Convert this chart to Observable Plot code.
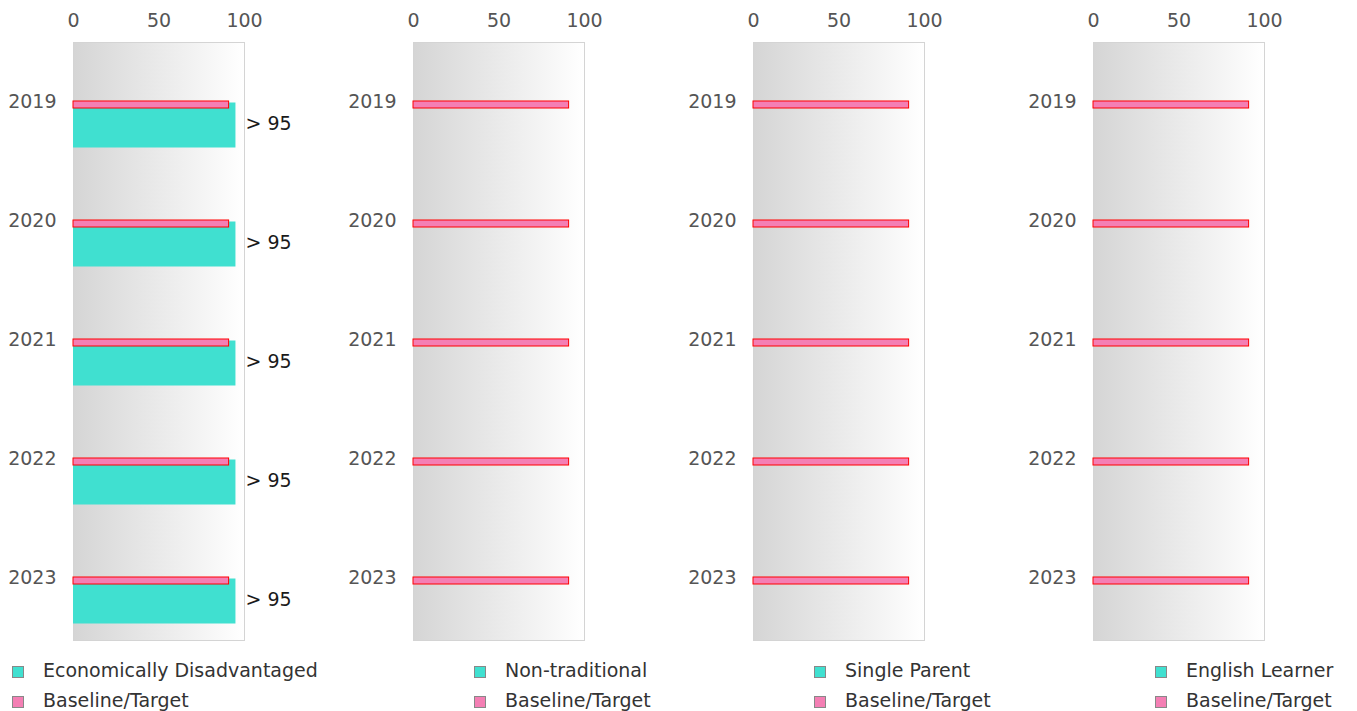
<!DOCTYPE html>
<html>
<head>
<meta charset="utf-8">
<script src="https://cdn.jsdelivr.net/npm/d3@7"></script>
<script src="https://cdn.jsdelivr.net/npm/@observablehq/plot@0.6"></script>
<style>
  html, body { margin: 0; padding: 0; background: #fff; overflow: hidden; }
  body { font-family: "DejaVu Sans", sans-serif; }
  #root { display: flex; width: 1360px; }
  .panel { width: 340px; flex: 0 0 340px; }
  .legend { margin-top: 10px; }
  .item { height: 30px; line-height: 30px; font-size: 19px; color: #333; white-space: nowrap; }
  .sw { display: inline-block; width: 10px; height: 10px; border: 1px solid #888; margin-right: 19px; vertical-align: -1px; }
</style>
</head>
<body>
<div id="root"></div>
<script>
const years = ["2019", "2020", "2021", "2022", "2023"];
const groups = ["Economically Disadvantaged", "Non-traditional", "Single Parent", "English Learner"];
const groupValues = [
  [95, 95, 95, 95, 95],
  [null, null, null, null, null],
  [null, null, null, null, null],
  [null, null, null, null, null]
];
const groupLabels = [
  ["> 95", "> 95", "> 95", "> 95", "> 95"],
  [null, null, null, null, null],
  [null, null, null, null, null],
  [null, null, null, null, null]
];
const targetValues = [
  [91, 91, 91, 91, 91],
  [91, 91, 91, 91, 91],
  [91, 91, 91, 91, 91],
  [91, 91, 91, 91, 91]
];
const seriesNames = ["Baseline/Target"];
const xTicks = [0, 50, 100];
const colorGroup = "#40e0d0";
const colorTarget = "#f47fb4";
const legendOffsets = [12, 134, 134, 135];

const root = document.getElementById("root");

groups.forEach((g, gi) => {
  const groupData = years.map((y, i) => ({year: y, value: groupValues[gi][i], label: groupLabels[gi][i]})).filter(d => d.value != null);
  const targetData = years.map((y, i) => ({year: y, value: targetValues[gi][i]})).filter(d => d.value != null);
  const gradId = "bg" + gi;

  const defs = () => {
    const ns = "http://www.w3.org/2000/svg";
    const d = document.createElementNS(ns, "defs");
    const lg = document.createElementNS(ns, "linearGradient");
    lg.setAttribute("id", gradId);
    lg.setAttribute("x1", "0"); lg.setAttribute("x2", "1");
    lg.setAttribute("y1", "0"); lg.setAttribute("y2", "0");
    [["0", "#d5d5d5"], ["1", "#ffffff"]].forEach(([o, c]) => {
      const s = document.createElementNS(ns, "stop");
      s.setAttribute("offset", o); s.setAttribute("stop-color", c);
      lg.appendChild(s);
    });
    d.appendChild(lg);
    return d;
  };

  const chart = Plot.plot({
    width: 340,
    height: 645,
    marginLeft: 73,
    marginRight: 96,
    marginTop: 42,
    marginBottom: 5,
    style: {fontFamily: "DejaVu Sans, sans-serif", fontSize: "19px", background: "transparent", overflow: "visible"},
    x: {domain: [0, 100], axis: null},
    y: {type: "band", domain: years, padding: 0, axis: null},
    marks: [
      defs,
      Plot.frame({fill: `url(#${gradId})`, stroke: "#d4d4d4"}),
      Plot.axisX({anchor: "top", ticks: xTicks, tickSize: 0, tickPadding: 16, fill: "#555", fontSize: 19, label: null}),
      Plot.axisY({anchor: "left", tickSize: 0, tickPadding: 17, dy: -2, fill: "#555", fontSize: 19, label: null}),
      Plot.barX(groupData, {y: "year", x: "value", fill: colorGroup, insetTop: 58.5, insetBottom: 15.5}),
      Plot.barX(targetData, {y: "year", x: "value", fill: colorTarget, stroke: "#ff0000", strokeWidth: 1, insetTop: 57, insetBottom: 55}),
      Plot.text(groupData, {y: "year", x: () => 100, text: "label", textAnchor: "start", dx: 1, dy: 20, fill: "#1a1a1a", fontSize: 19})
    ]
  });

  const panel = document.createElement("div");
  panel.className = "panel";
  panel.appendChild(chart);
  const legend = document.createElement("div");
  legend.className = "legend";
  legend.style.paddingLeft = legendOffsets[gi] + "px";
  [[g, colorGroup], [seriesNames[0], colorTarget]].forEach(([name, col]) => {
    const it = document.createElement("div");
    it.className = "item";
    const sw = document.createElement("span");
    sw.className = "sw";
    sw.style.background = col;
    it.appendChild(sw);
    it.appendChild(document.createTextNode(name));
    legend.appendChild(it);
  });
  panel.appendChild(legend);
  root.appendChild(panel);
});
</script>
</body>
</html>
